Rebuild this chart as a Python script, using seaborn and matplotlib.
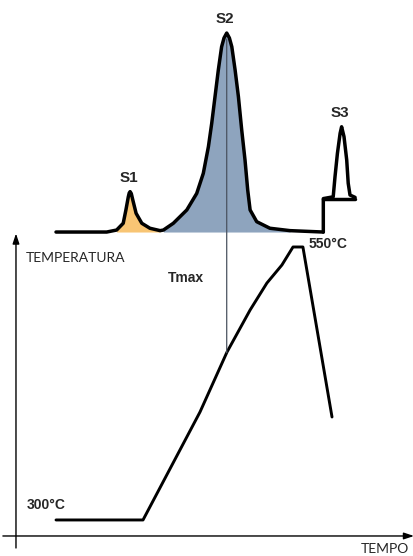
import numpy as np
import pandas as pd
import matplotlib
matplotlib.use("Agg")
import matplotlib.pyplot as plt
from matplotlib.patches import ConnectionPatch
import seaborn as sns

# =========================================
# DATA  (time in min, temperature in degC, signal in arbitrary units)
# =========================================

# temperature program: 300 C hold, ramp to 550 C, cool down
prog_time = [0.1, 3.0, 4.9, 5.8, 6.57, 7.13, 7.63, 8.0, 8.33, 9.3]
prog_temp = [300, 300, 398.9, 453.8, 492.3, 517.0, 533.5, 550, 550, 394.3]

# pyrogram outline (FID signal), S2 peak = 1
pyro_time = [0.1, 1.79, 2.12, 2.34, 2.43, 2.51, 2.54, 2.57, 2.61, 2.66, 2.77, 2.96,
             3.23, 3.57, 3.68, 4.01, 4.46, 4.79, 5.01, 5.18, 5.29, 5.40, 5.51,
             5.62, 5.70, 5.79, 5.88, 5.96, 6.07, 6.18, 6.29, 6.40, 6.49, 6.57,
             6.79, 7.23, 7.90, 9.01]
pyro_signal = [0, 0.0, 0.010, 0.044, 0.111, 0.177, 0.196, 0.203, 0.193, 0.161, 0.094, 0.044,
               0.019, 0.007, 0.010, 0.044, 0.111, 0.194, 0.295, 0.429, 0.546, 0.680, 0.814,
               0.931, 0.975, 1.0, 0.975, 0.931, 0.814, 0.680, 0.513, 0.362, 0.211, 0.111,
               0.052, 0.019, 0.007, 0]

# S3 (CO2 detector) on its own stepped baseline
s3_base = 0.168
s3_time = [9.01, 9.01, 9.34, 9.40, 9.48, 9.57, 9.62, 9.70, 9.79, 9.84, 9.90, 10.07]
s3_signal = [0, 0.168, 0.177, 0.278, 0.395, 0.496, 0.529, 0.479, 0.362, 0.245, 0.186, 0.174]
s3_baseline_time = [9.01, 10.07]

peak_names = ["S1", "S2", "S3"]
peak_time = [2.57, 5.79, 9.62]
peak_signal = [0.203, 1.0, 0.529]

s1_range = (1.95, 3.62)
s2_range = (3.62, 7.95)

orange = "#F8C574"
blue = "#8EA4BE"

# =========================================
# FIGURE
# =========================================

sns.set_style("white")
plt.rcParams["font.family"] = ["Liberation Sans", "DejaVu Sans"]

fig = plt.figure(figsize=(4.14, 5.56), dpi=100)
ax = fig.add_axes([0, 0, 1, 1])
ax2 = ax.twinx()

ax.set_xlim(-1.767, 12.033)
ax.set_ylim(267.0, 776.2)
ax2.set_ylim(-1.628, 1.166)
for a in (ax, ax2):
    a.axis("off")

line_kw = dict(sort=False, estimator=None, color="black",
               solid_joinstyle="round", solid_capstyle="round")

# temperature program
prog = pd.DataFrame({"time": prog_time, "temp": prog_temp})
sns.lineplot(data=prog, x="time", y="temp", linewidth=2.1, ax=ax, **line_kw)

# pyrogram fills
pt = np.array(pyro_time)
ps = np.array(pyro_signal)
m1 = (pt >= s1_range[0]) & (pt <= s1_range[1])
m2 = (pt >= s2_range[0]) & (pt <= s2_range[1])
ax2.fill_between(pt[m1], 0, ps[m1], color=orange, lw=0)
ax2.fill_between(pt[m2], 0, ps[m2], color=blue, lw=0)

pyro = pd.DataFrame({"time": pyro_time, "signal": pyro_signal})
sns.lineplot(data=pyro, x="time", y="signal", linewidth=2.5, ax=ax2, **line_kw)
s3 = pd.DataFrame({"time": s3_time, "signal": s3_signal})
sns.lineplot(data=s3, x="time", y="signal", linewidth=2.5, ax=ax2, **line_kw)
ax2.plot(s3_baseline_time, [s3_base, s3_base], color="black", lw=2.5,
         solid_capstyle="round")

# Tmax line from S2 top down to the temperature ramp
t_max = peak_time[1]
temp_at_tmax = np.interp(t_max, prog_time, prog_temp)
con = ConnectionPatch(xyA=(t_max, 0.97), coordsA=ax2.transData,
                      xyB=(t_max, temp_at_tmax), coordsB=ax.transData,
                      color="#4a5360", lw=0.9)
fig.add_artist(con)

# peak labels
for name, t, s in zip(peak_names, peak_time, peak_signal):
    ax2.annotate(name, (t, s), xytext=(-1, 10), textcoords="offset points",
                 ha="center", va="center", fontsize=11, fontweight="bold")

ax.annotate("550°C", (prog_time[8], prog_temp[8]), xytext=(4, 2.5),
            textcoords="offset points", ha="left", va="center",
            fontsize=10, fontweight="bold")
ax.annotate("300°C", (prog_time[0], prog_temp[0]), xytext=(-21, 11),
            textcoords="offset points", ha="left", va="center",
            fontsize=10, fontweight="bold")

ax.text(0.405, 0.5, "Tmax", transform=ax.transAxes, ha="left", va="center",
        fontsize=10, fontweight="bold")
ax.text(0.063, 0.536, "TEMPERATURA", transform=ax.transAxes, ha="left",
        va="center", fontsize=10, family=["Lato", "DejaVu Sans"])
ax.text(0.988, 0.012, "TEMPO", transform=ax.transAxes, ha="right",
        va="center", fontsize=10, family=["Lato", "DejaVu Sans"])

# axes arrows
arrow = dict(arrowstyle="-|>,head_length=0.6,head_width=0.2", color="black",
             lw=1.0, shrinkA=0, shrinkB=0)
ax.annotate("", xy=(0.0386, 0.580), xytext=(0.0386, 0.0144),
            xycoords="axes fraction", arrowprops=arrow)
ax.annotate("", xy=(1.0, 0.036), xytext=(0.007, 0.036),
            xycoords="axes fraction", arrowprops=arrow)

fig.savefig("out.png", dpi=100)
